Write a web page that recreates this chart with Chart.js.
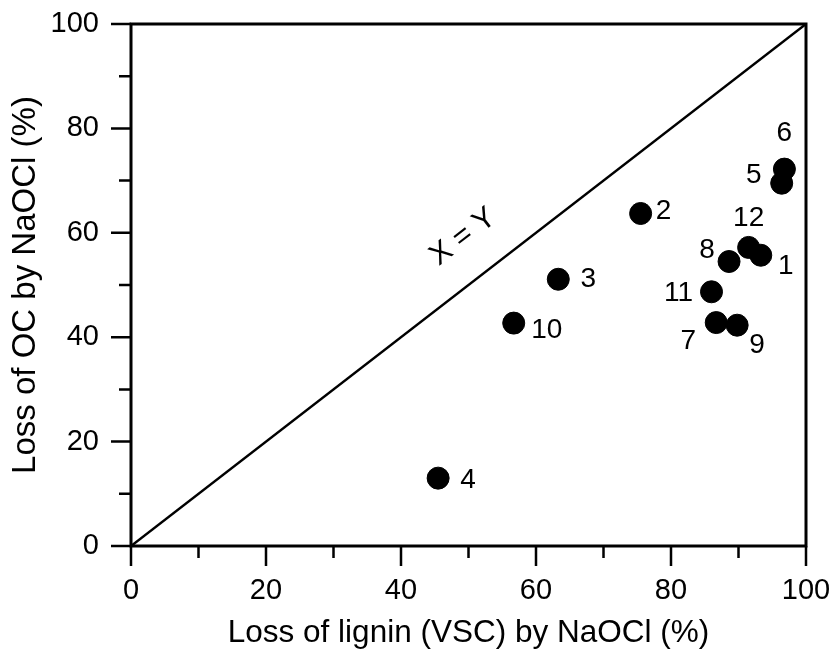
<!DOCTYPE html>
<html>
<head>
<meta charset="utf-8">
<script src="https://cdn.jsdelivr.net/npm/chart.js@4/dist/chart.umd.min.js"></script>
<style>
  html, body { margin: 0; padding: 0; background: #fff; }
  #wrap { width: 839px; height: 653px; }
</style>
</head>
<body>
<div id="wrap"><canvas id="chart"></canvas></div>
<script>
// data
const sampleIds = ['1', '2', '3', '4', '5', '6', '7', '8', '9', '10', '11', '12'];
const ligninLoss = [93.3, 75.5, 63.3, 45.5, 96.4, 96.8, 86.7, 88.6, 89.8, 56.7, 86.0, 91.5];
const ocLoss = [55.7, 63.7, 51.1, 13.0, 69.5, 72.2, 42.8, 54.5, 42.3, 42.7, 48.7, 57.2];
const tickValues = [0, 20, 40, 60, 80, 100];
const minorTickValues = [10, 30, 50, 70, 90];
const identityLine = [0, 100];

// label offsets in px (dx, dy) from point centre
const labelOffsets = [
  [25, 11], [23, -2], [30, 0], [30, 2], [-28, -8], [0, -36],
  [-28, 19], [-22, -11], [20, 20], [33, 7], [-33, 1], [0, -29]
];

const FONT = 'Liberation Sans, Arial, Helvetica, sans-serif';

// keep chart area fixed, ignore label overhang
function noPad(scale) {
  scale.paddingLeft = 0;
  scale.paddingRight = 0;
  scale.paddingTop = 0;
  scale.paddingBottom = 0;
}

// ticks, frame and text labels
const extrasPlugin = {
  id: 'extras',
  afterDatasetsDraw(chart) {
    const { ctx, chartArea: a, scales: { x, y } } = chart;
    ctx.save();
    ctx.strokeStyle = '#000';
    ctx.lineWidth = 3;
    ctx.strokeRect(a.left, a.top, a.right - a.left, a.bottom - a.top);

    ctx.beginPath();
    tickValues.forEach(v => {
      const px = x.getPixelForValue(v);
      ctx.moveTo(px, a.bottom); ctx.lineTo(px, a.bottom + 20);
      const py = y.getPixelForValue(v);
      ctx.moveTo(a.left, py); ctx.lineTo(a.left - 20, py);
    });
    minorTickValues.forEach(v => {
      const px = x.getPixelForValue(v);
      ctx.moveTo(px, a.bottom); ctx.lineTo(px, a.bottom + 12);
      const py = y.getPixelForValue(v);
      ctx.moveTo(a.left, py); ctx.lineTo(a.left - 12, py);
    });
    ctx.lineWidth = 2.5;
    ctx.stroke();

    // sample numbers
    ctx.fillStyle = '#000';
    ctx.font = '28px ' + FONT;
    ctx.textAlign = 'center';
    ctx.textBaseline = 'middle';
    sampleIds.forEach((id, i) => {
      const px = x.getPixelForValue(ligninLoss[i]) + labelOffsets[i][0];
      const py = y.getPixelForValue(ocLoss[i]) + labelOffsets[i][1];
      ctx.fillText(id, px, py);
    });

    // X = Y label along the 1:1 line
    const ang = Math.atan2(y.getPixelForValue(100) - y.getPixelForValue(0),
                           x.getPixelForValue(100) - x.getPixelForValue(0));
    ctx.translate(x.getPixelForValue(49.2), y.getPixelForValue(59.2));
    ctx.rotate(ang);
    ctx.font = '30px ' + FONT;
    ctx.fillText('X = Y', 0, 0);
    ctx.restore();
  }
};

new Chart(document.getElementById('chart'), {
  type: 'scatter',
  data: {
    datasets: [
      {
        data: sampleIds.map((id, i) => ({ x: ligninLoss[i], y: ocLoss[i] })),
        backgroundColor: '#000',
        borderColor: '#000',
        pointRadius: 11,
        pointHoverRadius: 11,
        order: 1
      },
      {
        type: 'line',
        data: identityLine.map(v => ({ x: v, y: v })),
        borderColor: '#000',
        borderWidth: 2.5,
        pointRadius: 0,
        order: 2
      }
    ]
  },
  plugins: [extrasPlugin],
  options: {
    responsive: true,
    maintainAspectRatio: false,
    animation: false,
    layout: { autoPadding: false, padding: { top: 24, right: 33, left: 0, bottom: 0 } },
    plugins: { legend: { display: false }, tooltip: { enabled: false } },
    scales: {
      x: {
        type: 'linear',
        min: 0, max: 100,
        afterFit(scale) { scale.height = 107; noPad(scale); },
        ticks: {
          stepSize: 20,
          color: '#000',
          padding: 28,
          maxRotation: 0,
          font: { size: 29, family: FONT }
        },
        grid: { display: false, drawTicks: false },
        border: { display: false },
        title: {
          display: true,
          text: 'Loss of lignin (VSC) by NaOCl (%)',
          color: '#000',
          font: { size: 31.5, family: FONT },
          padding: { top: 0, bottom: 1 }
        }
      },
      y: {
        type: 'linear',
        min: 0, max: 100,
        afterFit(scale) { scale.width = 131; noPad(scale); },
        ticks: {
          stepSize: 20,
          color: '#000',
          padding: 32,
          font: { size: 29, family: FONT }
        },
        grid: { display: false, drawTicks: false },
        border: { display: false },
        title: {
          display: true,
          text: 'Loss of OC by NaOCl (%)',
          color: '#000',
          font: { size: 33, family: FONT },
          padding: { top: 6, bottom: 0 }
        }
      }
    }
  }
});
</script>
</body>
</html>
